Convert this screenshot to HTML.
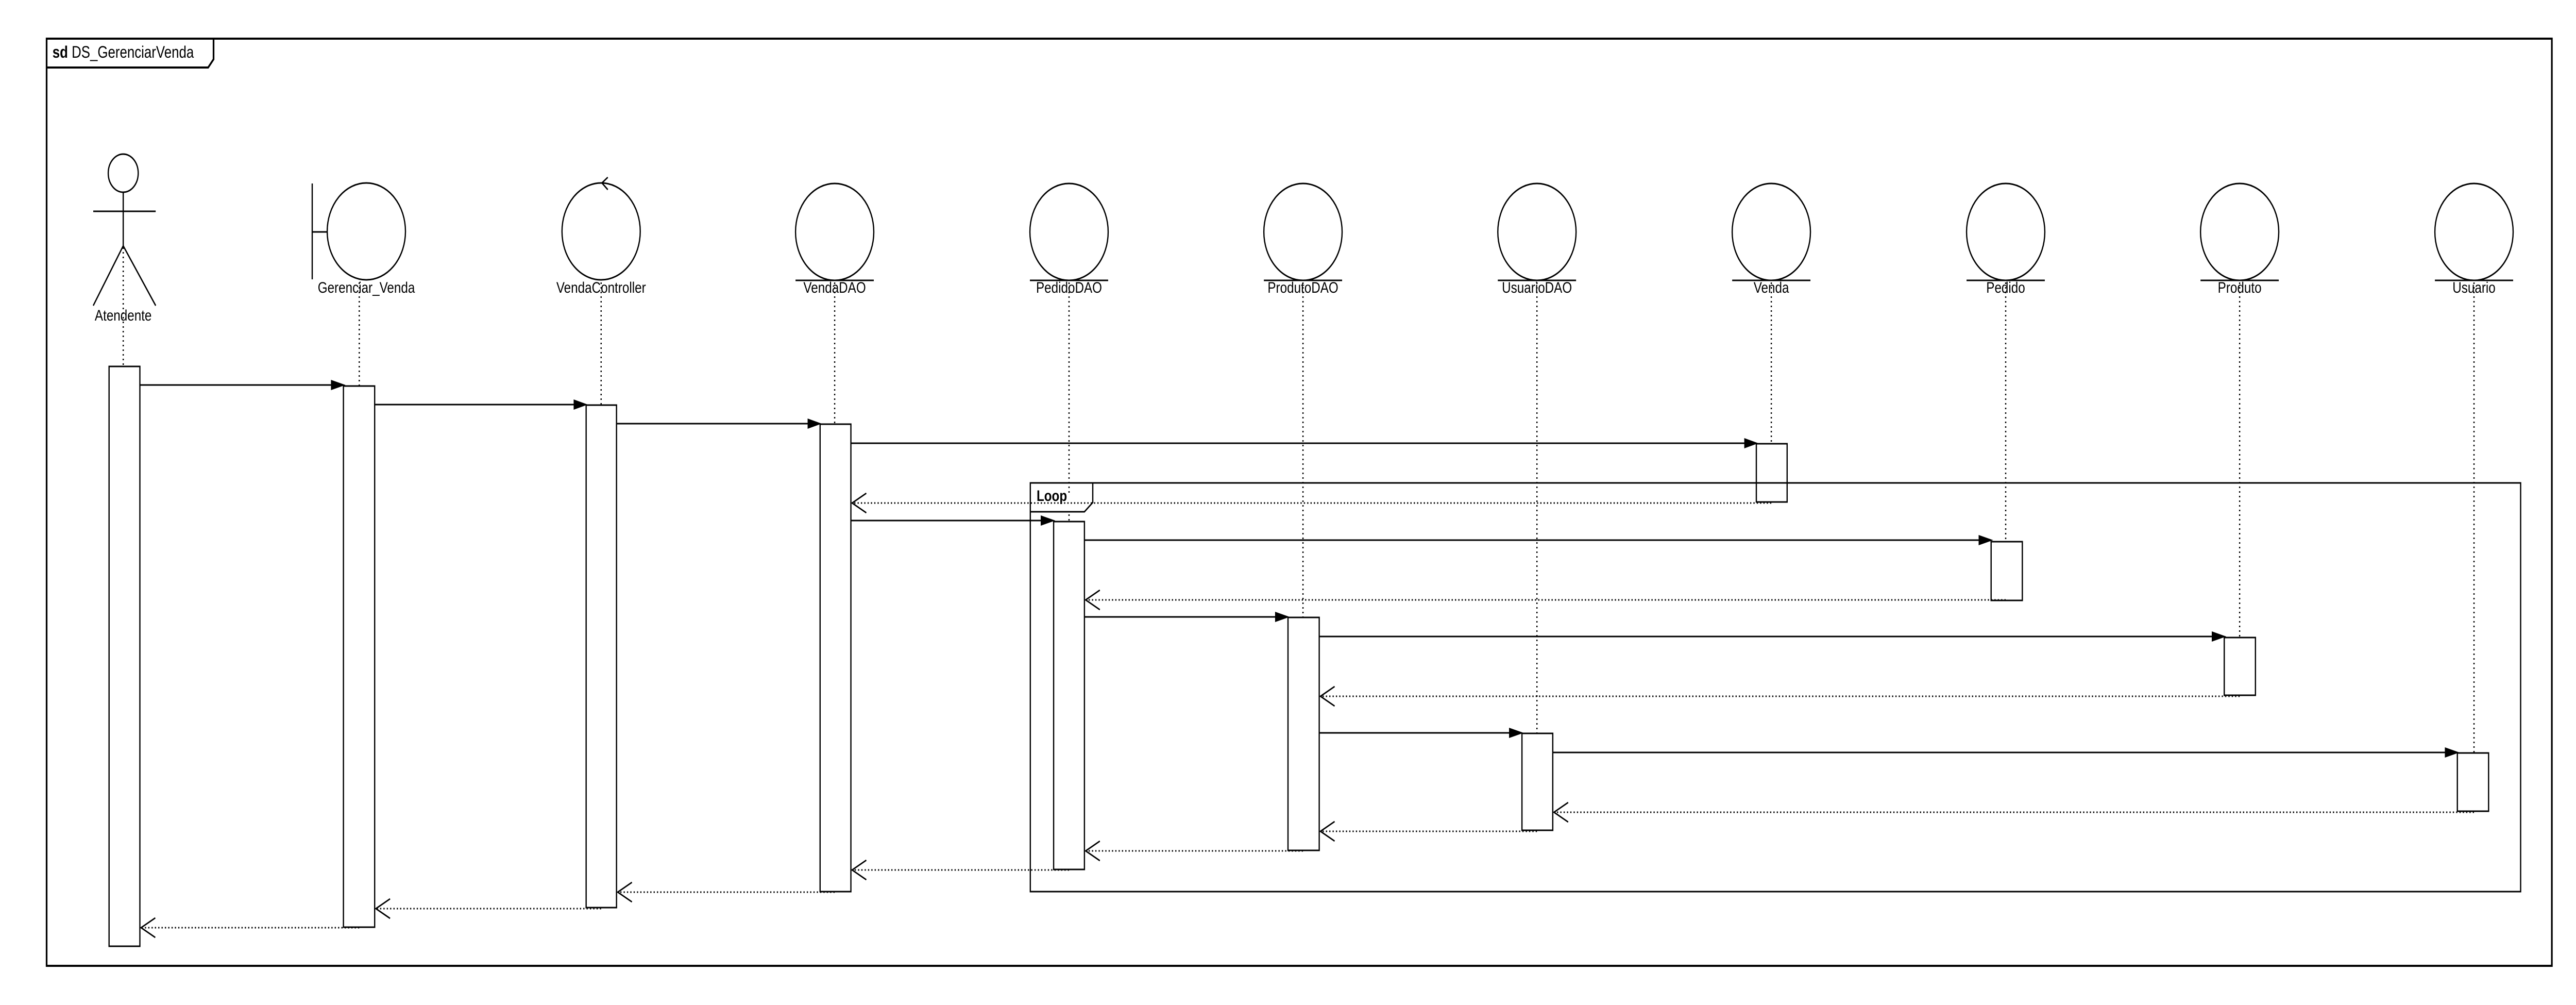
<!DOCTYPE html>
<html><head><meta charset="utf-8"><meta name="viewport" content="width=6188"><style>
html,body{margin:0;padding:0;background:#fff;width:100%;height:100%;overflow:hidden;}
svg{display:block;width:100vw;height:100vh;}
text{font-family:"Liberation Sans",sans-serif;fill:#000;}
</style></head><body>
<svg viewBox="0 0 6188 1950" preserveAspectRatio="none" xmlns="http://www.w3.org/2000/svg">
<rect x="0" y="0" width="6188" height="1950" fill="#fff"/>
<rect x="112" y="75" width="6018" height="1799" fill="none" stroke="#000" stroke-width="4"/>
<path d="M112,131 L500,131 L513,115 L513,75" fill="none" stroke="#000" stroke-width="4"/>
<text x="126" y="112" font-size="32"><tspan font-weight="bold">sd</tspan> DS_GerenciarVenda</text>

<g fill="none" stroke="#000" stroke-width="3">
<ellipse cx="296" cy="336" rx="36" ry="37"/>
<line x1="296" y1="373" x2="296" y2="477"/>
<line x1="224" y1="410" x2="374" y2="410"/>
<line x1="296" y1="477" x2="224" y2="593"/>
<line x1="296" y1="477" x2="374" y2="593"/>
<circle cx="880" cy="449" r="94"/>
<line x1="750" y1="356" x2="750" y2="542"/>
<line x1="750" y1="450" x2="786" y2="450"/>
<circle cx="1444" cy="449" r="94"/>
<path d="M1460,344 L1446,355 L1460,368"/>
<circle cx="2005" cy="450" r="94"/><line x1="1911" y1="544" x2="2099" y2="544"/>
<circle cx="2568" cy="450" r="94"/><line x1="2474" y1="544" x2="2662" y2="544"/>
<circle cx="3130" cy="450" r="94"/><line x1="3036" y1="544" x2="3224" y2="544"/>
<circle cx="3692" cy="450" r="94"/><line x1="3598" y1="544" x2="3786" y2="544"/>
<circle cx="4255" cy="450" r="94"/><line x1="4161" y1="544" x2="4349" y2="544"/>
<circle cx="4818" cy="450" r="94"/><line x1="4724" y1="544" x2="4912" y2="544"/>
<circle cx="5380" cy="450" r="94"/><line x1="5286" y1="544" x2="5474" y2="544"/>
<circle cx="5943" cy="450" r="94"/><line x1="5849" y1="544" x2="6037" y2="544"/>
</g>

<g font-size="30" text-anchor="middle">
<text x="296" y="622">Atendente</text>
<text x="880" y="568">Gerenciar_Venda</text>
<text x="1444" y="568">VendaController</text>
<text x="2005" y="568">VendaDAO</text>
<text x="2568" y="568">PedidoDAO</text>
<text x="3130" y="568">ProdutoDAO</text>
<text x="3692" y="568">UsuarioDAO</text>
<text x="4255" y="568">Venda</text>
<text x="4818" y="568">Pedido</text>
<text x="5380" y="568">Produto</text>
<text x="5943" y="568">Usuario</text>
</g>

<g stroke="#000" stroke-width="3" stroke-dasharray="3,6">
<line x1="296" y1="480" x2="296" y2="711"/>
<line x1="863" y1="548" x2="863" y2="749"/>
<line x1="1444" y1="548" x2="1444" y2="786"/>
<line x1="2005" y1="548" x2="2005" y2="823"/>
<line x1="2568" y1="548" x2="2568" y2="1012"/>
<line x1="3130" y1="548" x2="3130" y2="1198"/>
<line x1="3692" y1="548" x2="3692" y2="1423"/>
<line x1="4255" y1="548" x2="4255" y2="861"/>
<line x1="4818" y1="548" x2="4818" y2="1051"/>
<line x1="5380" y1="548" x2="5380" y2="1237"/>
<line x1="5943" y1="548" x2="5943" y2="1461"/>
</g>

<rect x="2475" y="937" width="3580" height="793" fill="none" stroke="#000" stroke-width="3"/>
<path d="M2475,993 L2605,993 L2625,975 L2625,937" fill="#fff" stroke="#000" stroke-width="3"/>
<text x="2490" y="972" font-size="30" font-weight="bold">Loop</text>

<g fill="#fff" stroke="#000" stroke-width="3">
<rect x="262" y="711" width="74" height="1125"/>
<rect x="825" y="749" width="75" height="1050"/>
<rect x="1408" y="786" width="73" height="975"/>
<rect x="1970" y="823" width="74" height="907"/>
<rect x="2531" y="1012" width="74" height="675"/>
<rect x="3094" y="1198" width="75" height="452"/>
<rect x="3656" y="1423" width="74" height="188"/>
<rect x="4219" y="861" width="74" height="113"/>
<rect x="4783" y="1051" width="75" height="114"/>
<rect x="5343" y="1237" width="75" height="112"/>
<rect x="5903" y="1461" width="75" height="113"/>
</g>
<line x1="2475" y1="937" x2="6055" y2="937" stroke="#000" stroke-width="3"/>

<g stroke="#000" stroke-width="3" fill="#000">
<line x1="336" y1="747" x2="800" y2="747"/><path d="M795,737 L830,747 L795,757Z" stroke="none"/>
<line x1="900" y1="785" x2="1385" y2="785"/><path d="M1378,775 L1412,785 L1378,795Z" stroke="none"/>
<line x1="1481" y1="822" x2="1945" y2="822"/><path d="M1940,812 L1974,822 L1940,832Z" stroke="none"/>
<line x1="2044" y1="860" x2="4195" y2="860"/><path d="M4190,850 L4224,860 L4190,870Z" stroke="none"/>
<line x1="2044" y1="1010" x2="2505" y2="1010"/><path d="M2500,1000 L2535,1010 L2500,1020Z" stroke="none"/>
<line x1="2605" y1="1048" x2="4760" y2="1048"/><path d="M4753,1038 L4788,1048 L4753,1058Z" stroke="none"/>
<line x1="2605" y1="1197" x2="3070" y2="1197"/><path d="M3063,1187 L3098,1197 L3063,1207Z" stroke="none"/>
<line x1="3169" y1="1235" x2="5320" y2="1235"/><path d="M5313,1225 L5348,1235 L5313,1245Z" stroke="none"/>
<line x1="3169" y1="1422" x2="3630" y2="1422"/><path d="M3625,1412 L3660,1422 L3625,1432Z" stroke="none"/>
<line x1="3730" y1="1460" x2="5880" y2="1460"/><path d="M5873,1450 L5908,1460 L5873,1470Z" stroke="none"/>
</g>

<g stroke="#000" stroke-width="3" fill="none">
<g stroke-dasharray="3,5">
<line x1="4255" y1="976" x2="2047" y2="976"/>
<line x1="4818" y1="1164" x2="2608" y2="1164"/>
<line x1="5380" y1="1351" x2="3172" y2="1351"/>
<line x1="5943" y1="1576" x2="3733" y2="1576"/>
<line x1="3692" y1="1613" x2="3172" y2="1613"/>
<line x1="3130" y1="1651" x2="2608" y2="1651"/>
<line x1="2568" y1="1688" x2="2047" y2="1688"/>
<line x1="2005" y1="1731" x2="1484" y2="1731"/>
<line x1="1444" y1="1763" x2="903" y2="1763"/>
<line x1="863" y1="1800" x2="339" y2="1800"/>
</g>
<path d="M2081,957 L2047,976 L2081,995"/>
<path d="M2642,1145 L2608,1164 L2642,1183"/>
<path d="M3206,1332 L3172,1351 L3206,1370"/>
<path d="M3767,1557 L3733,1576 L3767,1595"/>
<path d="M3206,1594 L3172,1613 L3206,1632"/>
<path d="M2642,1632 L2608,1651 L2642,1670"/>
<path d="M2081,1669 L2047,1688 L2081,1707"/>
<path d="M1518,1712 L1484,1731 L1518,1750"/>
<path d="M937,1744 L903,1763 L937,1782"/>
<path d="M373,1781 L339,1800 L373,1819"/>
</g>
</svg>
</body></html>
